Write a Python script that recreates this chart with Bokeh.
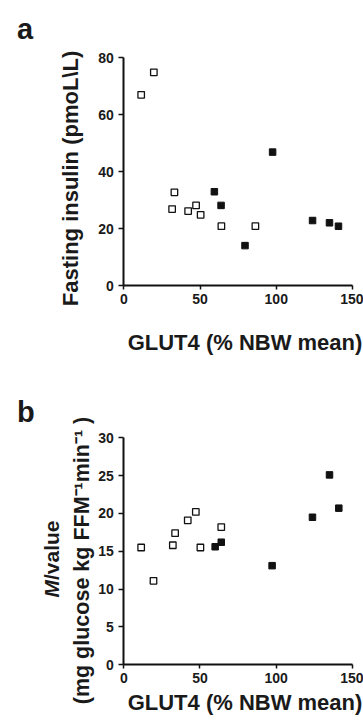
import math
from bokeh.plotting import figure
from bokeh.layouts import column
from bokeh.models import Range1d, FixedTicker, Label, LinearAxis
from bokeh.embed import file_html
from bokeh.resources import INLINE

# ---- data ----
# Panel a: fasting insulin vs GLUT4
a_open_glut4 = [11.4, 19.7, 33.2, 31.7, 42.2, 47.4, 50.4, 64.0, 86.3]
a_open_insulin = [66.9, 74.8, 32.7, 26.8, 26.1, 28.1, 24.8, 20.8, 20.8]
a_filled_glut4 = [59.4, 63.8, 97.6, 79.5, 123.8, 134.9, 140.8]
a_filled_insulin = [32.9, 28.1, 46.8, 14.0, 22.8, 22.0, 20.8]

# Panel b: M value vs GLUT4
b_open_glut4 = [11.4, 19.5, 32.2, 33.7, 42.0, 47.3, 50.3, 64.0]
b_open_m = [15.5, 11.1, 15.8, 17.4, 19.1, 20.2, 15.5, 18.2]
b_filled_glut4 = [60.0, 64.0, 97.4, 123.9, 135.1, 141.2]
b_filled_m = [15.6, 16.2, 13.1, 19.5, 25.1, 20.7]

x_ticks = [0, 50, 100, 150]
a_y_ticks = [0, 20, 40, 60, 80]
b_y_ticks = [0, 5, 10, 15, 20, 25, 30]

FONT = "Liberation Sans"
TEXT_COL = "#1a1a1a"
W = 363


def make_fig(height, frame_left, frame_right, frame_top, frame_bottom, ymax, yticks):
    # whole canvas is the data frame; axes are pinned at x=0 / y=0
    sx = (frame_right - frame_left) / 150.0
    sy = (frame_bottom - frame_top) / float(ymax)
    xr = Range1d(-frame_left / sx, (W - frame_left) / sx)
    yr = Range1d(-(height - frame_bottom) / sy, frame_bottom / sy)
    p = figure(width=W, height=height, x_range=xr, y_range=yr,
               x_axis_type=None, y_axis_type=None,
               output_backend="svg", toolbar_location=None, title=None,
               min_border=0)
    p.grid.visible = False
    p.outline_line_color = None
    p.background_fill_color = "white"
    p.border_fill_color = "white"
    xa = LinearAxis(fixed_location=0, bounds=(0, 150), ticker=FixedTicker(ticks=x_ticks))
    ya = LinearAxis(fixed_location=0, bounds=(0, ymax), ticker=FixedTicker(ticks=yticks))
    for ax in (xa, ya):
        ax.axis_line_width = 2
        ax.axis_line_color = "#111111"
        ax.major_tick_line_width = 1.5
        ax.major_tick_line_color = "#111111"
        ax.major_tick_in = 0
        ax.minor_tick_in = 0
        ax.minor_tick_out = 0
        ax.major_label_text_font = FONT
        ax.major_label_text_font_style = "bold"
        ax.major_label_text_font_size = "14px"
        ax.major_label_text_color = TEXT_COL
    xa.major_tick_out = 4
    xa.major_label_standoff = 4
    ya.major_tick_out = 5
    ya.major_label_standoff = 5
    p.add_layout(xa, "below")
    p.add_layout(ya, "left")

    def tx(fx):
        return (fx - frame_left) / sx

    def ty(fy):
        return (frame_bottom - fy) / sy

    return p, tx, ty


def lab(p, x, y, text, size="22px", angle=0.0, align="left", style="bold"):
    p.add_layout(Label(x=x, y=y, text=text, angle=angle, text_align=align,
                       text_baseline="alphabetic", text_font=FONT,
                       text_font_style=style, text_font_size=size,
                       text_color=TEXT_COL))


# ---- panel a ----
pa, ax, ay = make_fig(360, 123.3, 352.0, 57.0, 285.0, 80, a_y_ticks)
pa.scatter(a_open_glut4, a_open_insulin, marker="square", size=6.5,
           fill_color="white", line_color="#111111", line_width=1.3)
pa.scatter(a_filled_glut4, a_filled_insulin, marker="square", size=6.5,
           fill_color="#111111", line_color="#111111", line_width=1)

lab(pa, ax(16.5), ay(28.5), "a", size="29px")
lab(pa, ax(70), ay(178), "Fasting insulin (pmoL\\L)", angle=math.pi / 2, align="center")
lab(pa, ax(244.5), ay(342), "GLUT4 (% NBW mean)", align="center")

# ---- panel b ----
pb, bx, by = make_fig(361, 123.3, 351.7, 77.3, 304.3, 30, b_y_ticks)
pb.scatter(b_open_glut4, b_open_m, marker="square", size=6.5,
           fill_color="white", line_color="#111111", line_width=1.3)
pb.scatter(b_filled_glut4, b_filled_m, marker="square", size=6.5,
           fill_color="#111111", line_color="#111111", line_width=1)

lab(pb, bx(16.5), by(51.5), "b", size="29px")
lab(pb, bx(51), by(237), "M", size="21px", angle=math.pi / 2, style="bold italic")
lab(pb, bx(51), by(219.5), "/value", size="21px", angle=math.pi / 2)
lab(pb, bx(81.5), by(200), "(mg glucose kg FFM\u207b\u00b9min\u207b\u00b9 )", size="21.5px",
    angle=math.pi / 2, align="center")
lab(pb, bx(244.5), by(341.5), "GLUT4 (% NBW mean)", align="center")

layout = column(pa, pb, spacing=0)
open("out.html", "w").write(file_html(layout, INLINE))
